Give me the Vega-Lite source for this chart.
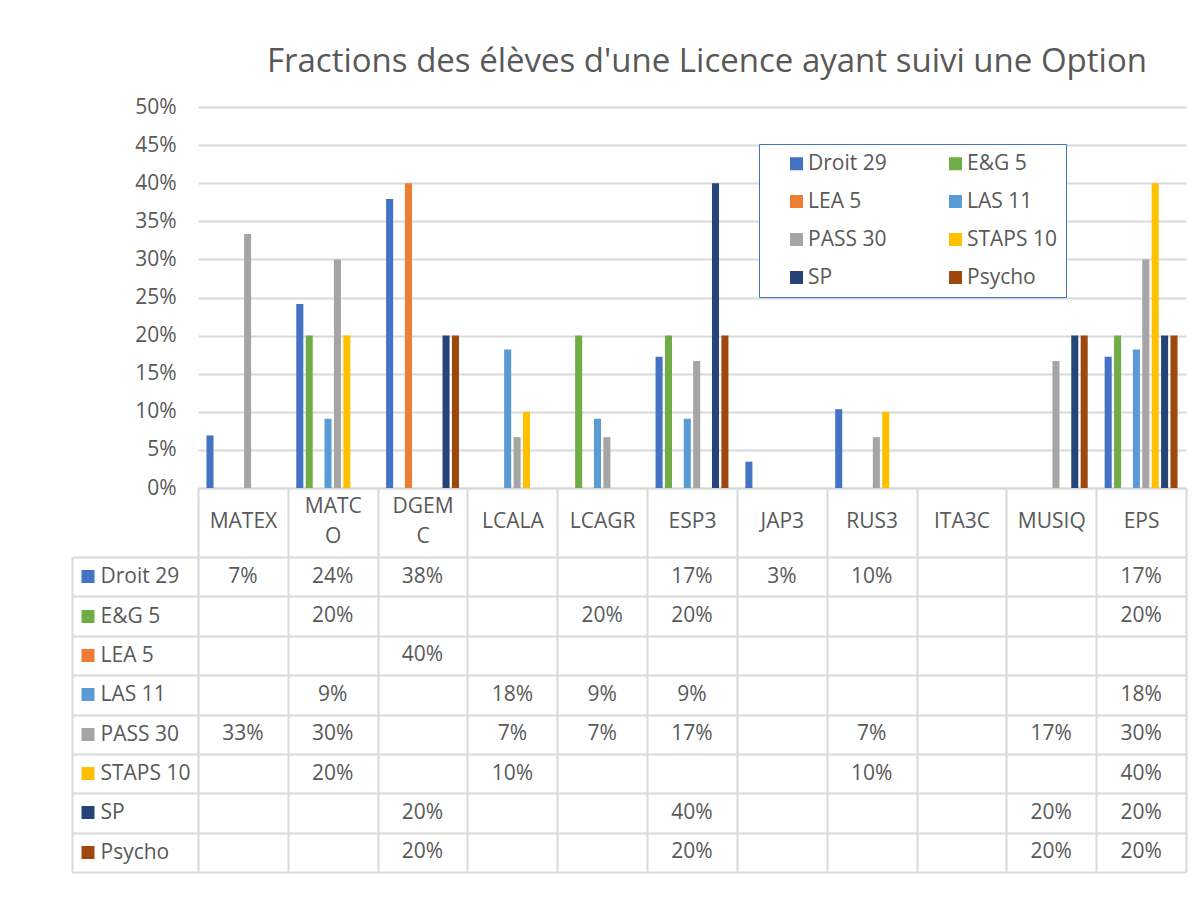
{
  "$schema": "https://vega.github.io/schema/vega-lite/v6.json",
  "padding": {"left": 71, "top": 46, "right": 5, "bottom": 5},
  "background": "white",
  "config": {"font": "Open Sans", "view": {"stroke": null}},
  "datasets": {
    "d": [
      {"cat": "MATEX", "serie": "Droit 29", "v": 0.069},
      {"cat": "MATCO", "serie": "Droit 29", "v": 0.2414},
      {"cat": "DGEMC", "serie": "Droit 29", "v": 0.3793},
      {"cat": "ESP3", "serie": "Droit 29", "v": 0.1724},
      {"cat": "JAP3", "serie": "Droit 29", "v": 0.0345},
      {"cat": "RUS3", "serie": "Droit 29", "v": 0.1034},
      {"cat": "EPS", "serie": "Droit 29", "v": 0.1724},
      {"cat": "MATCO", "serie": "E&G 5", "v": 0.2},
      {"cat": "LCAGR", "serie": "E&G 5", "v": 0.2},
      {"cat": "ESP3", "serie": "E&G 5", "v": 0.2},
      {"cat": "EPS", "serie": "E&G 5", "v": 0.2},
      {"cat": "DGEMC", "serie": "LEA 5", "v": 0.4},
      {"cat": "MATCO", "serie": "LAS 11", "v": 0.0909},
      {"cat": "LCALA", "serie": "LAS 11", "v": 0.1818},
      {"cat": "LCAGR", "serie": "LAS 11", "v": 0.0909},
      {"cat": "ESP3", "serie": "LAS 11", "v": 0.0909},
      {"cat": "EPS", "serie": "LAS 11", "v": 0.1818},
      {"cat": "MATEX", "serie": "PASS 30", "v": 0.3333},
      {"cat": "MATCO", "serie": "PASS 30", "v": 0.3},
      {"cat": "LCALA", "serie": "PASS 30", "v": 0.0667},
      {"cat": "LCAGR", "serie": "PASS 30", "v": 0.0667},
      {"cat": "ESP3", "serie": "PASS 30", "v": 0.1667},
      {"cat": "RUS3", "serie": "PASS 30", "v": 0.0667},
      {"cat": "MUSIQ", "serie": "PASS 30", "v": 0.1667},
      {"cat": "EPS", "serie": "PASS 30", "v": 0.3},
      {"cat": "MATCO", "serie": "STAPS 10", "v": 0.2},
      {"cat": "LCALA", "serie": "STAPS 10", "v": 0.1},
      {"cat": "RUS3", "serie": "STAPS 10", "v": 0.1},
      {"cat": "EPS", "serie": "STAPS 10", "v": 0.4},
      {"cat": "DGEMC", "serie": "SP", "v": 0.2},
      {"cat": "ESP3", "serie": "SP", "v": 0.4},
      {"cat": "MUSIQ", "serie": "SP", "v": 0.2},
      {"cat": "EPS", "serie": "SP", "v": 0.2},
      {"cat": "DGEMC", "serie": "Psycho", "v": 0.2},
      {"cat": "ESP3", "serie": "Psycho", "v": 0.2},
      {"cat": "MUSIQ", "serie": "Psycho", "v": 0.2},
      {"cat": "EPS", "serie": "Psycho", "v": 0.2}
    ]
  },
  "bounds": "flush",
  "spacing": 69,
  "resolve": {"scale": {"x": "independent", "y": "independent"}},
  "vconcat": [
    {
      "width": 988,
      "height": 381,
      "title": {"text": "Fractions des élèves d'une Licence ayant suivi une Option", "fontSize": 33, "font": "Open Sans", "fontWeight": "normal", "color": "#595959", "anchor": "middle", "frame": "group", "offset": 17, "dx": 15},
      "data": {"name": "d"},
      "mark": {"type": "bar"},
      "encoding": {
        "x": {
          "field": "cat", "type": "nominal",
          "scale": {"domain": ["MATEX", "MATCO", "DGEMC", "LCALA", "LCAGR", "ESP3", "JAP3", "RUS3", "ITA3C", "MUSIQ", "EPS"], "paddingInner": 0, "paddingOuter": 0},
          "axis": {"title": null, "orient": "bottom", "domain": true, "domainColor": "#d9d9d9", "domainWidth": 2, "ticks": true, "tickBand": "extent", "tickSize": 69, "tickColor": "#d9d9d9", "tickWidth": 2, "labelAngle": 0, "labelFont": "Open Sans", "labelFontSize": 21, "labelColor": "#595959", "labelBaseline": "middle", "labelLineHeight": 30, "labelLimit": 0,
            "labelPadding": {"condition": {"test": "datum.value === 'MATCO' || datum.value === 'DGEMC'", "value": -51}, "value": -36},
            "labelExpr": "datum.value == 'MATCO' ? ['MATC','O'] : datum.value == 'DGEMC' ? ['DGEM','C'] : datum.value"}
        },
        "xOffset": {"field": "serie", "type": "nominal", "scale": {"domain": ["Droit 29", "E&G 5", "LEA 5", "LAS 11", "PASS 30", "STAPS 10", "SP", "Psycho"], "paddingInner": 0.25, "paddingOuter": 0.9}},
        "y": {
          "field": "v", "type": "quantitative",
          "scale": {"domain": [0, 0.5], "nice": false},
          "axis": {"title": null, "values": [0, 0.05, 0.1, 0.15, 0.2, 0.25, 0.3, 0.35, 0.4, 0.45, 0.5], "format": ".0%", "domain": false, "ticks": false, "grid": true, "gridColor": "#d9d9d9", "gridWidth": 2, "labelFont": "Open Sans", "labelFontSize": 21, "labelColor": "#595959", "labelPadding": 22}
        },
        "color": {
          "field": "serie", "type": "nominal",
          "scale": {"domain": ["Droit 29", "E&G 5", "LEA 5", "LAS 11", "PASS 30", "STAPS 10", "SP", "Psycho"], "range": ["#4472C4", "#70AD47", "#ED7D31", "#5B9BD5", "#A5A5A5", "#FFC000", "#264478", "#9E480E"]},
          "legend": {"orient": "none", "legendX": 561, "legendY": 37, "title": null, "direction": "horizontal", "columns": 2, "symbolType": "square", "symbolSize": 169, "symbolStrokeWidth": 0, "labelFontSize": 21, "labelColor": "#595959", "labelFont": "Open Sans", "strokeColor": "#4472C4", "fillColor": "white", "padding": 9, "rowPadding": 16, "columnPadding": 40, "symbolOffset": 18, "labelOffset": 1}
        }
      }
    },
    {
      "width": 988,
      "height": 315,
      "data": {"name": "d"},
      "encoding": {
        "x": {
          "field": "cat", "type": "nominal",
          "scale": {"domain": ["MATEX", "MATCO", "DGEMC", "LCALA", "LCAGR", "ESP3", "JAP3", "RUS3", "ITA3C", "MUSIQ", "EPS"], "paddingInner": 0, "paddingOuter": 0},
          "axis": {"title": null, "orient": "top", "labels": false, "ticks": false, "domain": false, "grid": true, "tickBand": "extent", "gridColor": "#d9d9d9", "gridWidth": 2}
        }
      },
      "layer": [
        {
          "mark": {"type": "text", "fontSize": 21, "color": "#595959", "font": "Open Sans", "baseline": "middle"},
          "encoding": {
            "text": {"field": "v", "type": "quantitative", "format": ".0%"},
            "y": {
              "field": "serie", "type": "nominal",
              "scale": {"domain": ["Droit 29", "E&G 5", "LEA 5", "LAS 11", "PASS 30", "STAPS 10", "SP", "Psycho"], "paddingInner": 0, "paddingOuter": 0},
              "axis": {"title": null, "orient": "left", "offset": 126, "domain": true, "domainColor": "#d9d9d9", "domainWidth": 2, "ticks": true, "tickBand": "extent", "tickSize": -126, "tickColor": "#d9d9d9", "tickWidth": 2, "grid": true, "gridColor": "#d9d9d9", "gridWidth": 2, "labelAlign": "left", "labelBaseline": "middle", "labelPadding": 98, "labelFont": "Open Sans", "labelFontSize": 21, "labelColor": "#595959", "labelLimit": 0}
            }
          }
        },
        {
          "mark": {"type": "text", "opacity": 0},
          "encoding": {
            "text": {"field": "v", "type": "quantitative", "format": ".0%"},
            "y": {
              "field": "serie", "type": "nominal",
              "scale": {"domain": ["Droit 29", "E&G 5", "LEA 5", "LAS 11", "PASS 30", "STAPS 10", "SP", "Psycho"], "paddingInner": 0, "paddingOuter": 0},
              "axis": {"title": null, "orient": "left", "offset": 104, "domain": false, "grid": false, "labels": false, "ticks": true, "tickBand": "center", "tickSize": 13, "tickWidth": 13,
                "tickColor": {"condition": [
                  {"test": "datum.value === 'Droit 29'", "value": "#4472C4"},
                  {"test": "datum.value === 'E&G 5'", "value": "#70AD47"},
                  {"test": "datum.value === 'LEA 5'", "value": "#ED7D31"},
                  {"test": "datum.value === 'LAS 11'", "value": "#5B9BD5"},
                  {"test": "datum.value === 'PASS 30'", "value": "#A5A5A5"},
                  {"test": "datum.value === 'STAPS 10'", "value": "#FFC000"},
                  {"test": "datum.value === 'SP'", "value": "#264478"}
                ], "value": "#9E480E"}}
            }
          }
        }
      ],
      "resolve": {"axis": {"y": "independent"}}
    }
  ]
}
